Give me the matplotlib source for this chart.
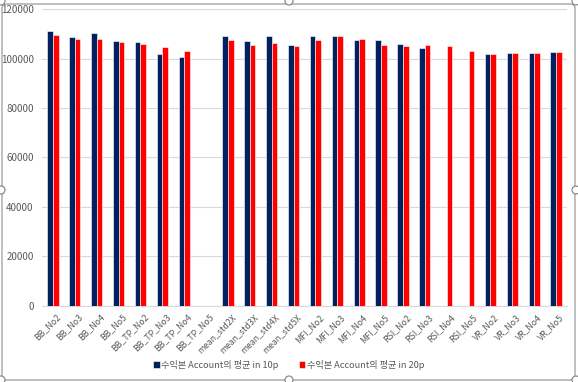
import matplotlib
matplotlib.use("Agg")
import matplotlib.pyplot as plt
import numpy as np
from matplotlib.patches import FancyBboxPatch, Circle

plt.rcParams['font.family'] = ['Noto Sans CJK KR', 'DejaVu Sans']

categories = ["BB_No2", "BB_No3", "BB_No4", "BB_No5", "BB_TP_No2", "BB_TP_No3",
              "BB_TP_No4", "BB_TP_No5", "mean_std2X", "mean_std3X", "mean_std4X",
              "mean_std5X", "MFI_No2", "MFI_No3", "MFI_No4", "MFI_No5", "RSI_No2",
              "RSI_No3", "RSI_No4", "RSI_No5", "VR_No2", "VR_No3", "VR_No4", "VR_No5"]
# NaN = no bar
series_10p = [111100, 108800, 110500, 107300, 106600, 101800, 100500, np.nan,
              109100, 107300, 109100, 105400, 109300, 109100, 107700, 107600,
              106100, 104100, np.nan, np.nan, 101800, 102300, 102300, 102700]
series_20p = [109700, 107800, 107800, 106900, 106100, 104500, 103100, np.nan,
              107600, 105700, 106400, 105100, 107700, 109200, 108100, 105700,
              105100, 105700, 105100, 103200, 102000, 102300, 102300, 102700]
label_10p = "수익본 Account의 평균 in 10p"
label_20p = "수익본 Account의 평균 in 20p"
yticks = [0, 20000, 40000, 60000, 80000, 100000, 120000]

W, H = 578, 382
fig = plt.figure(figsize=(W / 100, H / 100), dpi=100)
ax = fig.add_axes([42 / W, 1 - 305.5 / H, (567 - 42) / W, (305.5 - 9.2) / H])

x = np.arange(len(categories))
bw = 0.255
navy = "#002060"
red = "#FF0000"
ax.bar(x - bw / 2, series_10p, width=bw, color=navy, edgecolor="white",
       linewidth=0.4, label=label_10p, zorder=3)
ax.bar(x + bw / 2, series_20p, width=bw, color=red, edgecolor="white",
       linewidth=0.4, label=label_20p, zorder=3)

ax.set_xlim(-0.5, len(categories) - 0.5)
ax.set_ylim(0, 120000)
ax.set_yticks(yticks)
ax.set_yticklabels([str(v) for v in yticks], fontsize=7, color="#595959")
ax.yaxis.grid(True, color="#D9D9D9", linewidth=0.8, zorder=0)
ax.set_axisbelow(True)
for s in ["top", "right", "left"]:
    ax.spines[s].set_visible(False)
ax.spines["bottom"].set_color("#D9D9D9")
ax.spines["bottom"].set_linewidth(0.8)
ax.tick_params(axis="both", length=0, pad=6)
ax.set_xticks(x + 0.15)
ax.set_xticklabels(categories, rotation=45, ha="right", rotation_mode="anchor",
                   fontsize=6.3, color="#595959")
ax.tick_params(axis="x", pad=5)

leg = fig.legend(loc="center", bbox_to_anchor=(0.5, 1 - 365 / H), ncol=2,
                 frameon=False, fontsize=6.6, handlelength=0.7, handleheight=0.8,
                 handletextpad=0.2, columnspacing=2.2)
for t in leg.get_texts():
    t.set_color("#595959")

# chart frame
frame = FancyBboxPatch((2 / W, 2 / H), (W - 5) / W, (H - 6) / H,
                       boxstyle="round,pad=0,rounding_size=0.01",
                       transform=fig.transFigure, facecolor="none",
                       edgecolor="#A6A6A6", linewidth=1.0)
fig.patches.append(frame)
for (hx, hy) in [(289, 1), (1, 190), (576, 190), (289, 380), (1, 1), (576, 1), (1, 380), (576, 380)]:
    c = Circle((hx, H - hy), 4, transform=None, facecolor="white",
               edgecolor="#7F7F7F", linewidth=0.8)
    fig.patches.append(c)

fig.savefig("out.png", dpi=100, facecolor="white")
